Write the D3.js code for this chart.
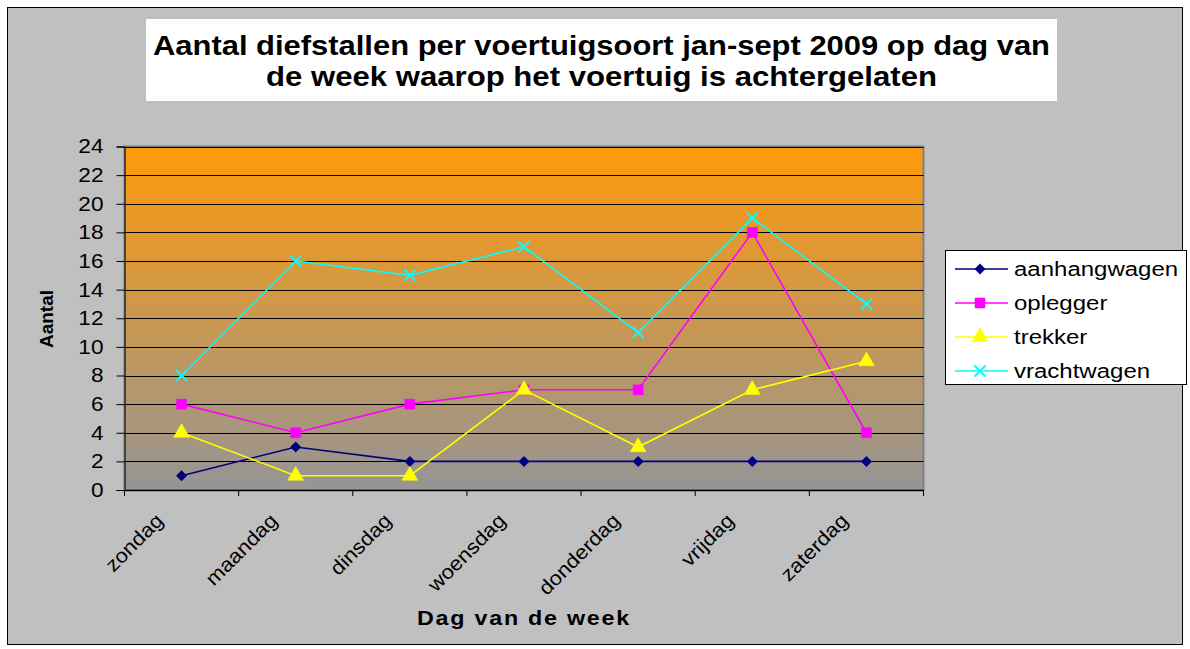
<!DOCTYPE html>
<html><head><meta charset="utf-8">
<script src="https://cdn.jsdelivr.net/npm/d3@7"></script>
<style>body{margin:0;background:#fff}svg{display:block;font-family:Arial,"Liberation Sans",sans-serif}</style>
</head><body><svg id="c" width="1190" height="649"></svg>
<script>
const days = ["zondag","maandag","dinsdag","woensdag","donderdag","vrijdag","zaterdag"];
const aanhangwagen = [1,3,2,2,2,2,2];
const oplegger = [6,4,6,7,7,18,4];
const trekker = [4,1,1,7,3,7,9];
const vrachtwagen = [8,16,15,17,11,19,13];
const yTicks = [0,2,4,6,8,10,12,14,16,18,20,22,24];
const seriesNames = ["aanhangwagen","oplegger","trekker","vrachtwagen"];
const seriesColors = ["#000080","#ff00ff","#ffff00","#00ffff"];
const seriesSymbols = ["diamond","square","triangle","cross"];
const series = [aanhangwagen, oplegger, trekker, vrachtwagen].map((v,i)=>({name:seriesNames[i],values:v,color:seriesColors[i],symbol:seriesSymbols[i]}));

function stretch(sel, k){
  sel.each(function(){
    const w = this.getComputedTextLength();
    d3.select(this).attr("textLength", w*k).attr("lengthAdjust","spacingAndGlyphs");
  });
}

const svg = d3.select("#c");
svg.append("rect").attr("x",0).attr("y",0).attr("width",1190).attr("height",649).attr("fill","#fff");
svg.append("rect").attr("x",7.5).attr("y",7.5).attr("width",1175).attr("height",637).attr("fill","#c0c0c0").attr("stroke","#000").attr("stroke-width",1);

// title
svg.append("rect").attr("x",146).attr("y",19).attr("width",911).attr("height",82).attr("fill","#fff");
svg.append("text").attr("x",601.5).attr("y",55).attr("text-anchor","middle").attr("font-weight","bold").attr("font-size",27)
  .attr("textLength",897).attr("lengthAdjust","spacingAndGlyphs")
  .text("Aantal diefstallen per voertuigsoort jan-sept 2009 op dag van");
svg.append("text").attr("x",601.5).attr("y",86).attr("text-anchor","middle").attr("font-weight","bold").attr("font-size",27)
  .attr("textLength",671).attr("lengthAdjust","spacingAndGlyphs")
  .text("de week waarop het voertuig is achtergelaten");

const L=124.5, R=923.5, T=146.5, B=490;
const x = d3.scaleBand().domain(days).range([L,R]);
const y = d3.scaleLinear().domain([0,24]).range([B,T]);

const defs = svg.append("defs");
const g = defs.append("linearGradient").attr("id","bg").attr("x1",0).attr("y1",0).attr("x2",0).attr("y2",1);
g.append("stop").attr("offset","0%").attr("stop-color","#ff9a0a");
g.append("stop").attr("offset","100%").attr("stop-color","#959595");
svg.append("rect").attr("x",L).attr("y",T).attr("width",R-L).attr("height",B-T).attr("fill","url(#bg)").attr("stroke","#808080").attr("stroke-width",2);

// gridlines
svg.append("g").selectAll("line").data(yTicks.filter(d=>d>0)).join("line")
  .attr("x1",L).attr("x2",R).attr("y1",d=>Math.round(y(d))+0.5).attr("y2",d=>Math.round(y(d))+0.5)
  .attr("stroke","#000").attr("stroke-width",1);

// y axis
const ya = svg.append("g").attr("transform",`translate(${L},0)`).call(d3.axisLeft(y).tickValues(yTicks).tickSize(8).tickPadding(13).tickFormat(d3.format("d")));
ya.select(".domain").attr("stroke","#000");
ya.selectAll(".tick line").attr("stroke","#000");
ya.selectAll("text").attr("font-size",20).attr("fill","#000").attr("font-family","Arial,'Liberation Sans',sans-serif");
stretch(ya.selectAll("text"),1.13);

// x axis
const xa = svg.append("g").attr("transform",`translate(0,${B})`).call(d3.axisBottom(x).tickSize(0).tickFormat(""));
xa.select(".domain").attr("stroke","#000").attr("stroke-width",1.5);
const bounds = days.map(d=>x(d)).concat([R]);
svg.append("g").selectAll("line").data(bounds).join("line")
  .attr("x1",d=>d).attr("x2",d=>d).attr("y1",B).attr("y2",B+6).attr("stroke","#000");
const xl = svg.append("g").selectAll("text").data(days).join("text")
  .attr("transform",d=>`translate(${x(d)+x.bandwidth()/2-27},${B+22}) rotate(-45)`)
  .attr("text-anchor","end").attr("dy","0.7em").attr("font-size",20).attr("fill","#000").text(d=>d);
stretch(xl,1.1);

// axis titles
const xt = svg.append("text").attr("x",524).attr("y",625).attr("text-anchor","middle").attr("font-weight","bold").attr("font-size",20).attr("letter-spacing",1.5).text("Dag van de week");
xt.attr("textLength",214).attr("lengthAdjust","spacingAndGlyphs");
svg.append("text").attr("transform","translate(53,319) rotate(-90)").attr("text-anchor","middle").attr("font-weight","bold").attr("font-size",18)
  .attr("textLength",58).attr("lengthAdjust","spacingAndGlyphs").text("Aantal");

// lines and markers
const cx = i=>x(days[i])+x.bandwidth()/2;
const line = d3.line().x((d,i)=>cx(i)).y(d=>y(d));
const symMap = {diamond:d3.symbolDiamond, square:d3.symbolSquare, triangle:d3.symbolTriangle};
function drawMarker(sel, s, px, py){
  if(s.symbol==="cross"){
    const r=5.5;
    sel.append("path").attr("d",`M${px-r},${py-r}L${px+r},${py+r}M${px-r},${py+r}L${px+r},${py-r}`).attr("stroke",s.color).attr("stroke-width",2).attr("fill","none");
  } else if(s.symbol==="diamond"){
    const r=5.5;
    sel.append("path").attr("d",`M${px},${py-r}L${px+r},${py}L${px},${py+r}L${px-r},${py}Z`).attr("fill",s.color);
  } else {
    const size = s.symbol==="square"?100:110;
    sel.append("path").attr("d",d3.symbol(symMap[s.symbol],size)()).attr("transform",`translate(${px},${py})`).attr("fill",s.color).attr("stroke",s.color).attr("stroke-width",0.5);
  }
}
series.forEach(s=>{
  svg.append("path").datum(s.values).attr("d",line).attr("fill","none").attr("stroke",s.color).attr("stroke-width",1.6);
});
series.forEach(s=>{
  const gm = svg.append("g");
  s.values.forEach((v,i)=>drawMarker(gm,s,cx(i),y(v)));
});

// legend
svg.append("rect").attr("x",945.5).attr("y",250.5).attr("width",241).attr("height",134).attr("fill","#fff").attr("stroke","#000");
series.forEach((s,i)=>{
  const ly = 269 + i*34;
  const lg = svg.append("g");
  lg.append("line").attr("x1",955).attr("x2",1008).attr("y1",ly).attr("y2",ly).attr("stroke",s.color).attr("stroke-width",1.6);
  drawMarker(lg,s,980,ly);
  const t = lg.append("text").attr("x",1014).attr("y",ly).attr("dy","0.35em").attr("font-size",20).attr("fill","#000").text(s.name);
  stretch(t,1.2);
});
</script></body></html>
